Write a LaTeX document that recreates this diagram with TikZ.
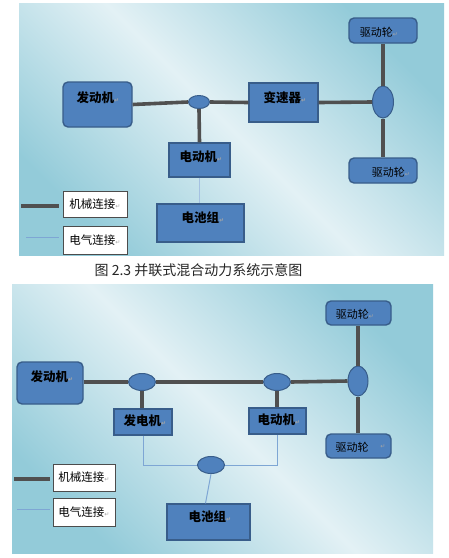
\documentclass[tikz,border=0pt]{standalone}
\usepackage{fontspec}
\newfontfamily\cjk{Noto Sans CJK SC}
\newfontfamily\dvs{DejaVu Sans}
\usetikzlibrary{shapes.geometric}
\definecolor{boxblue}{HTML}{4F81BD}
\definecolor{boxedge}{HTML}{385D8A}
\definecolor{bgdark}{HTML}{93CBD9}
\definecolor{bglight}{HTML}{E3F1F5}
\definecolor{mech}{HTML}{505050}
\definecolor{elec}{HTML}{7EA6D4}
\newcommand{\pmark}{{\dvs\fontsize{6}{6}\selectfont\color{gray!70}↵}}
\tikzset{
  sqbox/.style={draw=boxedge, fill=boxblue, line width=1.4pt, inner sep=0pt},
  rdbox/.style={sqbox, rounded corners=5pt},
  joint/.style={ellipse, draw=boxedge, fill=boxblue, line width=1pt, inner sep=0pt},
  lbl/.style={font=\cjk\bfseries\fontsize{12.5}{13}\selectfont, inner sep=0pt},
  wlbl/.style={font=\cjk\fontsize{11}{12}\selectfont, inner sep=0pt},
  legbox/.style={draw=black!70, fill=white, line width=0.6pt, inner sep=0pt, font=\cjk\fontsize{11.5}{12}\selectfont},
  mline/.style={draw=mech, line width=3.6pt},
  eline/.style={draw=elec, line width=1pt},
}
\begin{document}
\begin{tikzpicture}[x=1pt,y=-1pt]
\useasboundingbox[fill=white] (0,0) rectangle (449,558);
% backgrounds
\shade[top color=bgdark, bottom color=bgdark, middle color=bglight, shading angle=-45] (19,3) rectangle (444,255);
\shade[top color=bgdark, bottom color=bgdark, middle color=bglight, shading angle=-45] (12,284) rectangle (433,553);

% ===== top diagram =====
\node[rdbox, minimum width=69pt, minimum height=45pt] (eng1) at (97.5,104.5) {};
\node[joint, minimum width=21pt, minimum height=13pt] (j1) at (199,102) {};
\node[sqbox, minimum width=69pt, minimum height=39pt] (gear1) at (283.5,102.5) {};
\node[joint, minimum width=21pt, minimum height=32pt] (jw1) at (383,102) {};
\node[rdbox, minimum width=68pt, minimum height=25pt] (wt1) at (383,30.5) {};
\node[rdbox, minimum width=68pt, minimum height=25pt] (wb1) at (383,170.5) {};
\node[sqbox, minimum width=61pt, minimum height=34pt] (mot1) at (199.5,160) {};
\node[sqbox, minimum width=87pt, minimum height=38pt] (bat1) at (200.5,223) {};

\draw[mline] (eng1.east) -- (j1.west);
\draw[mline] (j1.east) -- (gear1.west);
\draw[mline] (gear1.east) -- (jw1.west);
\draw[mline] (j1.south) -- (mot1.north);
\draw[mline] (jw1.north) -- (wt1.south);
\draw[mline] (jw1.south) -- (wb1.north);
\draw[eline, draw=elec!70] (mot1.south) -- (mot1.south |- bat1.north);

\node[lbl] (t-eng1) at (98,98) {发动机\pmark};
\node[lbl] (t-gear1) at (285,98) {变速器\pmark};
\node[lbl] (t-mot1) at (201,157) {电动机\pmark};
\node[lbl] (t-bat1) at (203,218) {电池组\pmark};
\node[wlbl] (t-wt1) at (379,32) {驱动轮\pmark};
\node[wlbl] (t-wb1) at (391,172) {驱动轮\pmark};

% legend top
\node[legbox, minimum width=64pt, minimum height=26pt] (lm1) at (95,204) {机械连接\pmark};
\node[legbox, minimum width=64pt, minimum height=28pt] (le1) at (95,240) {电气连接\pmark};
\coordinate (lm1a) at (21,206);
\coordinate (le1a) at (26,237);
\draw[mline, line width=4.5pt] (lm1a) -- ([xshift=-4pt]lm1.west |- lm1a);
\draw[eline] (le1a) -- ([xshift=-4pt]le1.west |- le1a);

% caption
\node[font=\cjk\fontsize{14}{15}\selectfont, text=black!85, inner sep=0pt] (cap) at (198.5,270) {图 2.3 并联式混合动力系统示意图};

% ===== bottom diagram =====
\node[rdbox, minimum width=66pt, minimum height=42pt] (eng2) at (50,383) {};
\node[joint, minimum width=27pt, minimum height=17pt] (j2a) at (142,382) {};
\node[joint, minimum width=27pt, minimum height=17pt] (j2b) at (277,382) {};
\node[joint, minimum width=20pt, minimum height=30pt] (jw2) at (358,381) {};
\node[rdbox, minimum width=65pt, minimum height=24pt] (wt2) at (358.5,313) {};
\node[rdbox, minimum width=65pt, minimum height=24pt] (wb2) at (358.5,446) {};
\node[sqbox, minimum width=58pt, minimum height=26pt] (gen2) at (143,422) {};
\node[sqbox, minimum width=57pt, minimum height=26pt] (mot2) at (277.5,421) {};
\node[joint, minimum width=27pt, minimum height=17pt] (j2c) at (211,465) {};
\node[sqbox, minimum width=83pt, minimum height=36pt] (bat2) at (208.5,522) {};

\draw[mline] (eng2.east |- j2a) -- (j2a.west);
\draw[mline] (j2a.east) -- (j2b.west);
\draw[mline] (j2b.east) -- (jw2.west);
\draw[mline] (j2a.south) -- (j2a.south |- gen2.north);
\draw[mline] (j2b.south) -- (j2b.south |- mot2.north);
\draw[mline] (jw2.north) -- (jw2.north |- wt2.south);
\draw[mline] (jw2.south) -- (jw2.south |- wb2.north);
\draw[eline] (gen2.south) |- (j2c.west);
\draw[eline] (j2c.east) -| (mot2.south);
\draw[eline] (j2c.south) -- ([xshift=-3pt]bat2.north);

\node[lbl] (t-eng2) at (52,377) {发动机\pmark};
\node[lbl] (t-gen2) at (145,421) {发电机\pmark};
\node[lbl] (t-mot2) at (279,420) {电动机\pmark};
\node[lbl] (t-bat2) at (210,517) {电池组\pmark};
\node[wlbl] (t-wt2) at (355,314) {驱动轮\pmark};
\node[wlbl] (t-wb2) at (352,447) {驱动轮};
\node[inner sep=0pt] (t-wb2m) at (383,447) {\pmark};

% legend bottom
\node[legbox, minimum width=62pt, minimum height=27pt] (lm2) at (84,477.5) {机械连接\pmark};
\node[legbox, minimum width=62pt, minimum height=28pt] (le2) at (84,512) {电气连接\pmark};
\coordinate (lm2a) at (14,479);
\coordinate (le2a) at (17,509);
\draw[mline, line width=4.5pt] (lm2a) -- ([xshift=-3pt]lm2.west |- lm2a);
\draw[eline] (le2a) -- ([xshift=-3pt]le2.west |- le2a);
\end{tikzpicture}
\end{document}
